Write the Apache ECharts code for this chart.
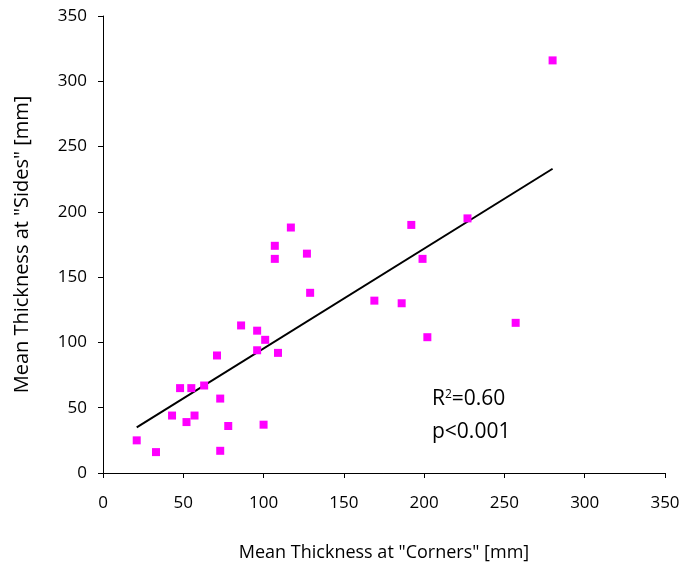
<!DOCTYPE html>
<html>
<head>
<meta charset="utf-8">
<style>
  html, body { margin: 0; padding: 0; background: #fff; }
  #chart { width: 684px; height: 567px; }
</style>
<script src="https://cdn.jsdelivr.net/npm/echarts@6/dist/echarts.min.js"></script>
</head>
<body>
<div id="chart"></div>
<script>
// Mean thickness measured at corners (x) vs. sides (y), in mm
const cornersMm = [21, 33, 43, 48, 52, 55, 57, 63, 71, 73, 73, 78, 86, 96, 96, 100, 101, 109, 107, 107, 117, 127, 129, 169, 186, 192, 199, 202, 227, 257, 280];
const sidesMm   = [25, 16, 44, 65, 39, 65, 44, 67, 90, 57, 17, 36, 113, 109, 94, 37, 102, 92, 174, 164, 188, 168, 138, 132, 130, 190, 164, 104, 195, 115, 316];

// Fitted regression line end points
const fitX = [21, 280];
const fitY = [35, 233];

const xTicks = [0, 50, 100, 150, 200, 250, 300, 350];
const yTicks = [0, 50, 100, 150, 200, 250, 300, 350];

const fontFamily = '"Open Sans", "DejaVu Sans", sans-serif';

const points = cornersMm.map((x, i) => [x, sidesMm[i]]);
const fitLine = fitX.map((x, i) => [x, fitY[i]]);

const chart = echarts.init(document.getElementById('chart'), null, { renderer: 'canvas' });

const axisCommon = {
  type: 'value',
  splitLine: { show: false },
  axisLine: { show: true, onZero: false, lineStyle: { color: '#000', width: 1 } },
  axisTick: { show: true, inside: false, length: 5, lineStyle: { color: '#000', width: 1 } },
  axisLabel: { color: '#000', fontSize: 17, fontFamily: fontFamily },
  nameLocation: 'middle',
  nameTextStyle: { color: '#000', fontSize: 18, fontFamily: fontFamily }
};

chart.setOption({
  animation: false,
  backgroundColor: '#fff',
  grid: { left: 103, right: 19, top: 16, bottom: 92, containLabel: false },
  xAxis: Object.assign({}, axisCommon, {
    min: xTicks[0],
    max: xTicks[xTicks.length - 1],
    interval: xTicks[1] - xTicks[0],
    name: 'Mean Thickness at "Corners" [mm]',
    nameGap: 71,
    axisLabel: Object.assign({}, axisCommon.axisLabel, { margin: 22 })
  }),
  yAxis: Object.assign({}, axisCommon, {
    min: yTicks[0],
    max: yTicks[yTicks.length - 1],
    interval: yTicks[1] - yTicks[0],
    name: 'Mean Thickness at "Sides" [mm]',
    nameGap: 71,
    nameTextStyle: { color: '#000', fontSize: 20, fontFamily: fontFamily },
    axisLabel: Object.assign({}, axisCommon.axisLabel, { margin: 16 })
  }),
  series: [
    {
      type: 'line',
      data: fitLine,
      showSymbol: false,
      symbol: 'none',
      lineStyle: { color: '#000', width: 2 },
      z: 2
    },
    {
      type: 'scatter',
      data: points,
      symbol: 'rect',
      symbolSize: 8,
      itemStyle: { color: '#FF00FF', opacity: 1 },
      z: 3
    }
  ],
  graphic: [
    {
      type: 'text',
      left: 432,
      top: 389,
      style: {
        text: 'R{sup|2}=0.60',
        fill: '#000',
        font: '21px ' + fontFamily,
        rich: {
          sup: { fontSize: 12, fontFamily: fontFamily, fill: '#000', verticalAlign: 'top', padding: [0, 0, 8, 0] }
        }
      }
    },
    {
      type: 'text',
      left: 432,
      top: 422,
      style: {
        text: 'p<0.001',
        fill: '#000',
        font: '21px ' + fontFamily
      }
    }
  ]
});
</script>
</body>
</html>
